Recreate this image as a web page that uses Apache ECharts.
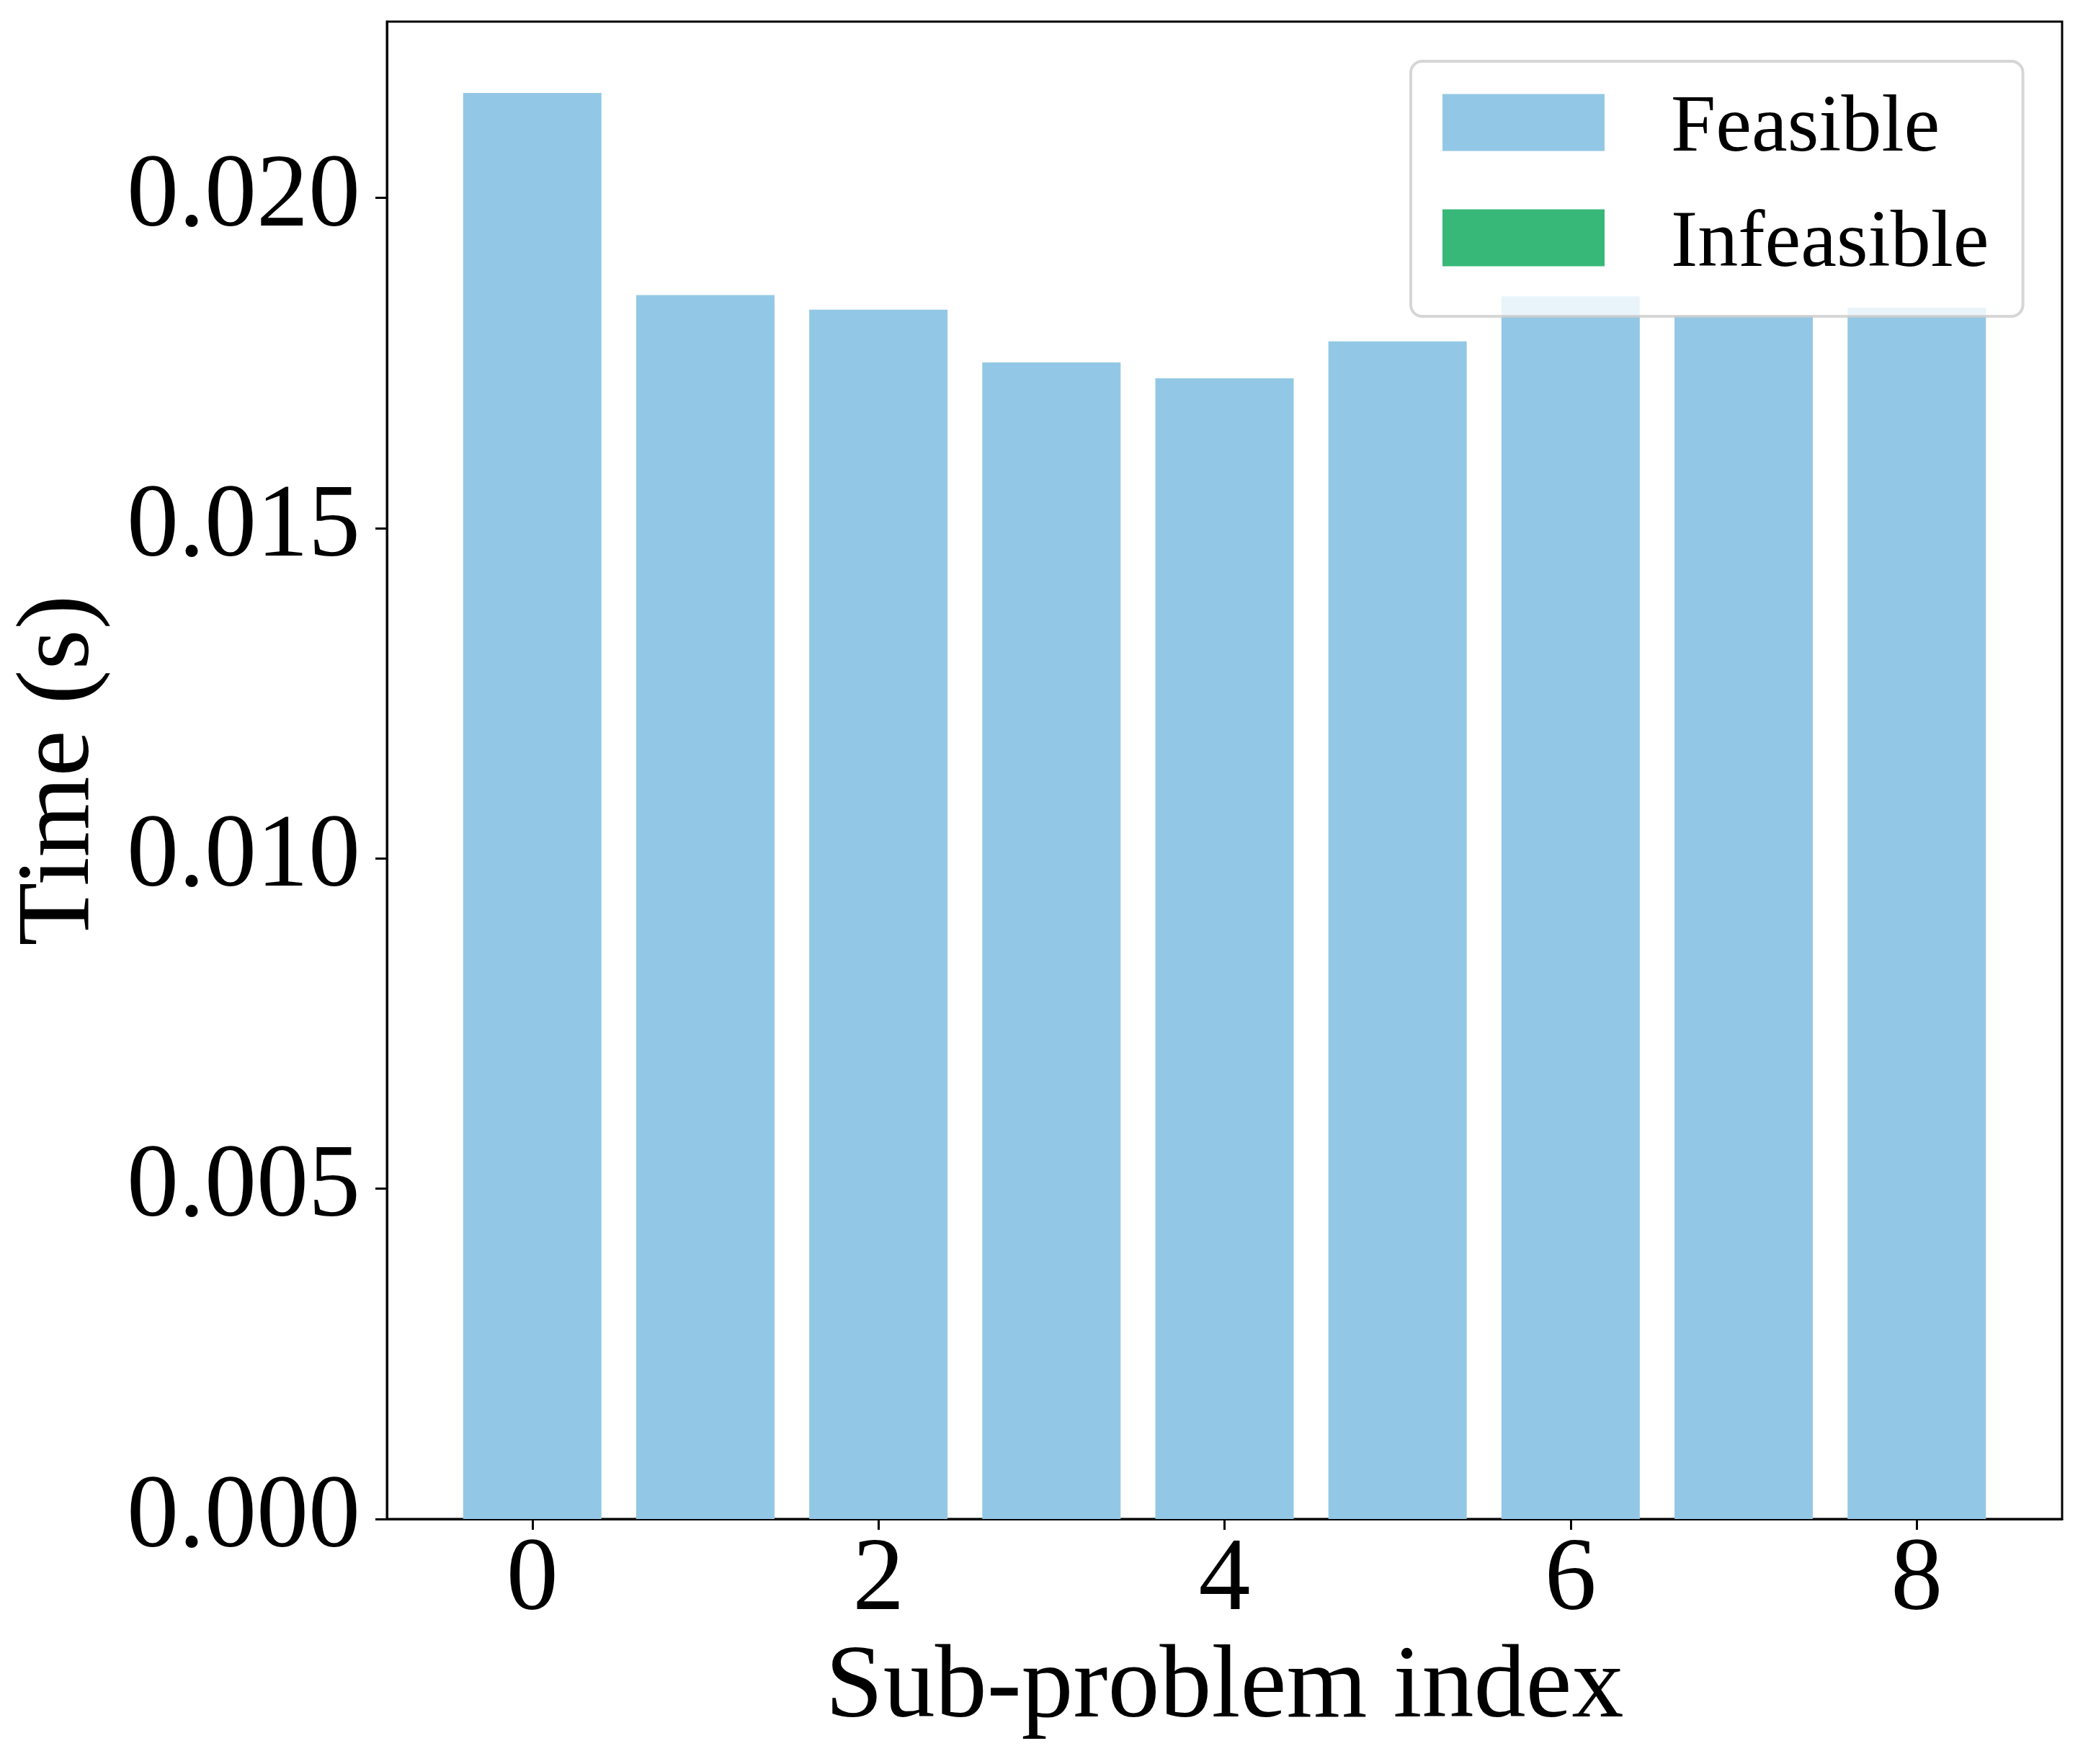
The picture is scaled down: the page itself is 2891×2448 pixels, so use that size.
<!DOCTYPE html>
<html>
<head>
<meta charset="utf-8">
<script src="https://cdn.jsdelivr.net/npm/echarts@6/dist/echarts.min.js"></script>
<style>
html,body{margin:0;padding:0;background:#fff;}
#chart{width:2891px;height:2448px;}
</style>
</head>
<body>
<div id="chart"></div>
<script>
const subProblems = [0, 1, 2, 3, 4, 5, 6, 7, 8];
const feasibleTimes = [0.02159, 0.01853, 0.01831, 0.01751, 0.01727, 0.01783, 0.01851, 0.01822, 0.01834];
const infeasibleTimes = [];
const xTicks = [0, 2, 4, 6, 8];
const yTicks = [0, 0.005, 0.010, 0.015, 0.020];

const FONT = "'Liberation Serif', 'Times New Roman', serif";
const chart = echarts.init(document.getElementById('chart'), null, {renderer: 'canvas'});

chart.setOption({
  animation: false,
  backgroundColor: '#ffffff',
  grid: {
    left: 537, right: 29, top: 30, bottom: 340,
    show: true, borderColor: '#000', borderWidth: 3, backgroundColor: 'transparent'
  },
  legend: {
    orient: 'vertical',
    left: 1958, top: 85,
    padding: [39, 47, 43, 44],
    itemWidth: 225, itemHeight: 79, itemGap: 48,
    icon: 'rect',
    backgroundColor: 'rgba(255,255,255,0.8)',
    borderColor: 'rgba(204,204,204,0.8)',
    borderWidth: 4,
    borderRadius: 16,
    formatter: name => '{t|' + name + '}',
    textStyle: {
      fontFamily: FONT, fontSize: 112, color: '#000',
      rich: {t: {fontFamily: FONT, fontSize: 112, color: '#000', padding: [20, 0, 0, 87]}}
    },
    data: ['Feasible', 'Infeasible']
  },
  xAxis: {
    type: 'value',
    min: -0.84, max: 8.84,
    name: 'Sub-problem index',
    nameLocation: 'middle',
    nameGap: 164,
    nameTextStyle: {fontFamily: FONT, fontSize: 144, color: '#000'},
    axisLine: {show: true, onZero: false, lineStyle: {color: '#000', width: 3}},
    axisTick: {show: true, inside: false, length: 15, lineStyle: {color: '#000', width: 3}, customValues: xTicks},
    axisLabel: {fontFamily: FONT, fontSize: 144, color: '#000', margin: 15, customValues: xTicks,
      formatter: v => String(v)},
    splitLine: {show: false}
  },
  yAxis: {
    type: 'value',
    min: 0, max: 0.02267,
    name: 'Time (s)',
    nameLocation: 'middle',
    nameGap: 381,
    nameTextStyle: {fontFamily: FONT, fontSize: 144, color: '#000'},
    axisLine: {show: true, onZero: false, lineStyle: {color: '#000', width: 3}},
    axisTick: {show: true, inside: false, length: 16, lineStyle: {color: '#000', width: 3}, customValues: yTicks},
    axisLabel: {fontFamily: FONT, fontSize: 144, color: '#000', margin: 37, customValues: yTicks,
      formatter: v => Number(v).toFixed(3)},
    splitLine: {show: false}
  },
  series: [
    {
      name: 'Feasible',
      type: 'bar',
      barWidth: 192,
      barGap: '-100%',
      itemStyle: {color: '#92C8E5'},
      data: subProblems.map((x, i) => [x, feasibleTimes[i]])
    },
    {
      name: 'Infeasible',
      type: 'bar',
      barWidth: 192,
      barGap: '-100%',
      itemStyle: {color: '#38B878'},
      data: infeasibleTimes
    }
  ]
});
</script>
</body>
</html>
